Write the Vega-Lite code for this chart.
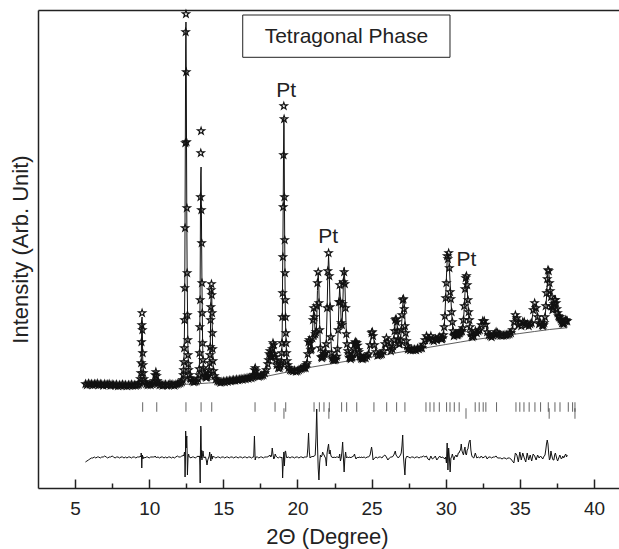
{
"$schema": "https://vega.github.io/schema/vega-lite/v6.json",
"width": 593, "height": 478,
"autosize": {"type": "none"},
"padding": {"left": 38, "top": 10, "right": 0, "bottom": 61},
"background": "white",
"config": {"view": {"stroke": null}, "font": "Liberation Sans",
  "axis": {"grid": false, "labelFont": "Liberation Sans", "titleFont": "Liberation Sans", "titleFontWeight": "normal", "domainColor": "#222", "tickColor": "#222", "labelColor": "#222", "titleColor": "#222"}},
"datasets": {
"xrd": [
{"x":5.7,"o":104,"c":103.5,"d":26},{"x":5.8,"o":103,"c":103.5,"d":27},{"x":5.9,"o":104.5,"c":103.5,"d":28},{"x":6.0,"o":103.5,"c":103.5,"d":29},{"x":6.1,"o":104,"c":103.5,"d":30},{"x":6.2,"o":103,"c":103.5,"d":30},{"x":6.3,"o":104,"c":103.4,"d":31},{"x":6.4,"o":103.5,"c":103.4,"d":30},{"x":6.5,"o":104.5,"c":103.4,"d":31},{"x":6.6,"o":103,"c":103.4,"d":31},{"x":6.7,"o":104,"c":103.3,"d":30},{"x":6.8,"o":103.5,"c":103.3,"d":31},{"x":6.9,"o":102.5,"c":103.3,"d":31},{"x":7.0,"o":104,"c":103.3,"d":32},{"x":7.1,"o":103,"c":103.2,"d":31},{"x":7.2,"o":103.5,"c":103.2,"d":30},{"x":7.3,"o":104,"c":103.2,"d":31},{"x":7.4,"o":102.5,"c":103.2,"d":31},{"x":7.5,"o":103.5,"c":103.1,"d":32},{"x":7.6,"o":103,"c":103.1,"d":31},{"x":7.7,"o":102.5,"c":103.1,"d":30},{"x":7.8,"o":103.5,"c":103.1,"d":31},{"x":7.9,"o":102,"c":103,"d":31},{"x":8.0,"o":103,"c":103,"d":30},{"x":8.1,"o":102.5,"c":103,"d":31},{"x":8.2,"o":103.5,"c":103,"d":31},{"x":8.3,"o":102.5,"c":103,"d":30},{"x":8.4,"o":103,"c":103,"d":31},{"x":8.5,"o":102,"c":103,"d":30},{"x":8.6,"o":103,"c":103,"d":31},{"x":8.7,"o":102.5,"c":103,"d":31},{"x":8.8,"o":103.5,"c":103,"d":30},{"x":8.9,"o":102.5,"c":103,"d":31},{"x":9.0,"o":103,"c":103,"d":31},{"x":9.1,"o":102.5,"c":103.1,"d":30},{"x":9.2,"o":103,"c":103.3,"d":31},{"x":9.3,"o":103.5,"c":103.6,"d":31},
{"x":9.36,"o":105,"c":104.5,"d":31},{"x":9.4,"o":109,"c":107,"d":32},{"x":9.44,"o":115,"c":114,"d":31},{"x":9.46,"o":125,"c":122,"d":35},{"x":9.48,"o":146,"c":142,"d":33},{"x":9.5,"o":163,"c":168,"d":20},{"x":9.52,"o":175,"c":171,"d":30},{"x":9.54,"o":158,"c":158,"d":33},{"x":9.56,"o":135,"c":132,"d":31},{"x":9.58,"o":123,"c":120,"d":29},{"x":9.6,"o":115,"c":113,"d":31},{"x":9.64,"o":109,"c":108,"d":31},{"x":9.7,"o":106,"c":105.5,"d":30},{"x":9.8,"o":104,"c":104,"d":31},{"x":9.9,"o":103,"c":103.5,"d":31},{"x":10.0,"o":103.5,"c":103.4,"d":30},{"x":10.1,"o":103,"c":103.5,"d":31},{"x":10.2,"o":104,"c":103.8,"d":31},{"x":10.3,"o":105,"c":104.5,"d":31},{"x":10.35,"o":107,"c":107,"d":31},{"x":10.4,"o":113,"c":112,"d":32},{"x":10.45,"o":116,"c":115,"d":31},{"x":10.5,"o":112,"c":112,"d":30},{"x":10.55,"o":107,"c":107,"d":31},{"x":10.6,"o":104.5,"c":104.5,"d":31},{"x":10.7,"o":103,"c":103.6,"d":30},{"x":10.8,"o":103.5,"c":103.3,"d":31},{"x":10.9,"o":102.5,"c":103.2,"d":31},{"x":11.0,"o":103,"c":103.2,"d":30},{"x":11.1,"o":103.5,"c":103.2,"d":31},{"x":11.2,"o":102.5,"c":103.3,"d":30},{"x":11.3,"o":103,"c":103.3,"d":31},{"x":11.4,"o":104,"c":103.3,"d":31},{"x":11.5,"o":103,"c":103.4,"d":30},{"x":11.6,"o":103.5,"c":103.5,"d":31},{"x":11.7,"o":102.5,"c":103.6,"d":30},{"x":11.8,"o":103.5,"c":103.7,"d":31},{"x":11.9,"o":104,"c":104,"d":32},{"x":12.0,"o":104.5,"c":104.3,"d":31},{"x":12.1,"o":105,"c":104.8,"d":31},{"x":12.2,"o":106,"c":105.6,"d":32},
{"x":12.26,"o":108,"c":107,"d":32},{"x":12.3,"o":113,"c":111,"d":33},{"x":12.32,"o":118,"c":116,"d":32},{"x":12.34,"o":126,"c":124,"d":33},{"x":12.36,"o":140,"c":137,"d":34},{"x":12.38,"o":168,"c":160,"d":36},{"x":12.4,"o":200,"c":198,"d":30},{"x":12.42,"o":260,"c":275,"d":11},{"x":12.44,"o":345,"c":355,"d":25},{"x":12.46,"o":456,"c":440,"d":57},{"x":12.48,"o":474,"c":466,"d":48},{"x":12.5,"o":416,"c":418,"d":40},{"x":12.52,"o":346,"c":335,"d":50},{"x":12.54,"o":280,"c":265,"d":52},{"x":12.56,"o":215,"c":214,"d":36},{"x":12.58,"o":173,"c":185,"d":13},{"x":12.6,"o":148,"c":155,"d":22},{"x":12.62,"o":133,"c":135,"d":30},{"x":12.64,"o":124,"c":124,"d":33},{"x":12.66,"o":118,"c":118,"d":34},{"x":12.7,"o":113,"c":112,"d":31},{"x":12.75,"o":110,"c":109.5,"d":31},{"x":12.8,"o":109,"c":108,"d":30},{"x":12.9,"o":107,"c":107,"d":31},{"x":13.0,"o":106,"c":106,"d":31},{"x":13.1,"o":106.5,"c":106,"d":30},{"x":13.2,"o":107,"c":107,"d":31},{"x":13.3,"o":109,"c":109,"d":32},
{"x":13.36,"o":113,"c":113,"d":31},{"x":13.38,"o":119,"c":118,"d":32},{"x":13.4,"o":135,"c":133,"d":32},{"x":13.42,"o":161,"c":165,"d":22},{"x":13.44,"o":188,"c":210,"d":5},{"x":13.46,"o":291,"c":280,"d":40},{"x":13.48,"o":335,"c":314,"d":62},{"x":13.5,"o":357,"c":321,"d":58},{"x":13.52,"o":278,"c":285,"d":30},{"x":13.54,"o":245,"c":240,"d":38},{"x":13.56,"o":205,"c":205,"d":28},{"x":13.58,"o":175,"c":178,"d":32},{"x":13.6,"o":145,"c":150,"d":33},{"x":13.63,"o":128,"c":127,"d":37},{"x":13.66,"o":120,"c":119,"d":33},{"x":13.7,"o":115,"c":115,"d":30},{"x":13.75,"o":112,"c":112,"d":31},{"x":13.8,"o":111,"c":111,"d":31},{"x":13.85,"o":110.5,"c":111,"d":28},{"x":13.9,"o":111,"c":112,"d":23},{"x":13.95,"o":112,"c":112,"d":28},{"x":14.0,"o":114,"c":114,"d":30},{"x":14.05,"o":118,"c":118,"d":32},{"x":14.08,"o":125,"c":124,"d":36},{"x":14.1,"o":133,"c":131,"d":34},{"x":14.12,"o":141,"c":142,"d":30},{"x":14.14,"o":168,"c":165,"d":29},{"x":14.16,"o":181,"c":184,"d":27},{"x":14.18,"o":198,"c":197,"d":32},{"x":14.2,"o":204,"c":201,"d":34},{"x":14.22,"o":193,"c":193,"d":31},{"x":14.24,"o":175,"c":177,"d":29},{"x":14.26,"o":155,"c":156,"d":29},{"x":14.28,"o":139,"c":139,"d":31},{"x":14.3,"o":127,"c":127,"d":32},{"x":14.34,"o":117,"c":117,"d":31},{"x":14.4,"o":112,"c":112,"d":31},
{"x":14.5,"o":109,"c":108.5,"d":30},{"x":14.6,"o":107,"c":107,"d":31},{"x":14.7,"o":106.5,"c":106.3,"d":31},{"x":14.8,"o":105.5,"c":106,"d":30},{"x":14.9,"o":106,"c":106,"d":31},{"x":15.0,"o":106.5,"c":106.2,"d":31},{"x":15.1,"o":106,"c":106.4,"d":30},{"x":15.2,"o":107,"c":106.6,"d":31},{"x":15.3,"o":106.5,"c":106.8,"d":31},{"x":15.4,"o":107.5,"c":107,"d":30},{"x":15.5,"o":107,"c":107.2,"d":31},{"x":15.6,"o":107.5,"c":107.4,"d":31},{"x":15.7,"o":108,"c":107.6,"d":30},{"x":15.8,"o":107.5,"c":107.8,"d":31},{"x":15.9,"o":108.5,"c":108,"d":31},{"x":16.0,"o":108,"c":108.2,"d":30},{"x":16.1,"o":108.5,"c":108.4,"d":31},{"x":16.2,"o":109,"c":108.6,"d":31},{"x":16.3,"o":108.5,"c":108.8,"d":30},{"x":16.4,"o":109.5,"c":109,"d":31},{"x":16.5,"o":109,"c":109.2,"d":31},{"x":16.6,"o":110,"c":109.4,"d":30},{"x":16.7,"o":109.5,"c":109.6,"d":31},{"x":16.8,"o":110.5,"c":109.8,"d":31},{"x":16.9,"o":110,"c":110,"d":30},{"x":17.0,"o":111,"c":110.5,"d":31},{"x":17.05,"o":113,"c":112,"d":31},{"x":17.1,"o":118,"c":114,"d":52},{"x":17.15,"o":120,"c":121,"d":28},{"x":17.2,"o":117,"c":117,"d":31},{"x":17.25,"o":113,"c":113,"d":31},{"x":17.3,"o":112,"c":112,"d":31},{"x":17.4,"o":111.5,"c":111.5,"d":30},{"x":17.5,"o":112,"c":111.8,"d":31},{"x":17.6,"o":112.5,"c":112.2,"d":31},{"x":17.7,"o":113,"c":113,"d":30},{"x":17.8,"o":115,"c":114.5,"d":31},{"x":17.9,"o":118,"c":118,"d":31},{"x":18.0,"o":124,"c":124,"d":31},{"x":18.05,"o":128,"c":128,"d":32},{"x":18.1,"o":134,"c":133,"d":32},{"x":18.15,"o":137,"c":137,"d":33},{"x":18.2,"o":132,"c":132,"d":31},{"x":18.25,"o":131,"c":131,"d":32},{"x":18.3,"o":139,"c":136,"d":40},{"x":18.35,"o":145,"c":144,"d":34},{"x":18.4,"o":143,"c":145,"d":29},{"x":18.45,"o":134,"c":135,"d":30},{"x":18.5,"o":131,"c":130,"d":34},{"x":18.55,"o":128,"c":128,"d":32},{"x":18.6,"o":123,"c":123,"d":31},{"x":18.7,"o":120,"c":120,"d":30},{"x":18.8,"o":120,"c":120,"d":31},{"x":18.85,"o":122,"c":122,"d":31},{"x":18.9,"o":125,"c":125,"d":30},
{"x":18.92,"o":127,"c":127,"d":30},{"x":18.94,"o":135,"c":133,"d":31},{"x":18.96,"o":145,"c":143,"d":30},{"x":18.98,"o":171,"c":168,"d":24},{"x":19.0,"o":195,"c":215,"d":10},{"x":19.02,"o":231,"c":245,"d":18},{"x":19.04,"o":281,"c":285,"d":24},{"x":19.06,"o":333,"c":330,"d":30},{"x":19.08,"o":382,"c":370,"d":36},{"x":19.1,"o":369,"c":362,"d":34},{"x":19.12,"o":291,"c":295,"d":22},{"x":19.14,"o":248,"c":250,"d":28},{"x":19.16,"o":215,"c":210,"d":34},{"x":19.18,"o":188,"c":180,"d":37},{"x":19.2,"o":171,"c":165,"d":37},{"x":19.22,"o":155,"c":152,"d":35},{"x":19.24,"o":145,"c":143,"d":33},{"x":19.26,"o":135,"c":135,"d":31},{"x":19.3,"o":127,"c":127,"d":30},{"x":19.35,"o":123,"c":123,"d":31},{"x":19.4,"o":120,"c":120,"d":31},
{"x":19.5,"o":118,"c":117.5,"d":30},{"x":19.6,"o":117.5,"c":117.4,"d":31},{"x":19.7,"o":117,"c":117.4,"d":31},{"x":19.8,"o":117.5,"c":117.5,"d":30},{"x":19.9,"o":116.5,"c":117.7,"d":31},{"x":20.0,"o":117,"c":118,"d":31},{"x":20.1,"o":118,"c":118.3,"d":30},{"x":20.2,"o":119,"c":118.6,"d":31},{"x":20.3,"o":119.5,"c":119,"d":31},{"x":20.4,"o":120,"c":119.5,"d":30},{"x":20.45,"o":120.5,"c":120,"d":31},{"x":20.5,"o":121,"c":120.5,"d":31},{"x":20.55,"o":120,"c":120.7,"d":31},{"x":20.6,"o":123,"c":122.2,"d":31},{"x":20.65,"o":125,"c":126,"d":31},{"x":20.7,"o":134,"c":133.6,"d":40},{"x":20.75,"o":146,"c":143,"d":55},{"x":20.8,"o":148,"c":148.4,"d":36},{"x":20.85,"o":145,"c":144.7,"d":30},{"x":20.9,"o":138,"c":138.6,"d":31},{"x":20.95,"o":139,"c":137.8,"d":31},{"x":21.0,"o":150,"c":149,"d":32},{"x":21.05,"o":168,"c":168.5,"d":31},{"x":21.1,"o":180,"c":179.8,"d":32},{"x":21.15,"o":171,"c":169.4,"d":32},{"x":21.2,"o":154,"c":152.5,"d":33},{"x":21.25,"o":156,"c":148.3,"d":50},{"x":21.3,"o":182,"c":166,"d":79},{"x":21.35,"o":205,"c":197.5,"d":45},{"x":21.4,"o":216,"c":215.6,"d":20},{"x":21.45,"o":185,"c":197,"d":8},{"x":21.5,"o":158,"c":163.7,"d":25},{"x":21.55,"o":140,"c":140.2,"d":33},{"x":21.6,"o":131,"c":130.8,"d":31},{"x":21.65,"o":130,"c":129,"d":32},{"x":21.7,"o":131,"c":129.9,"d":36},{"x":21.75,"o":132,"c":132.3,"d":34},{"x":21.8,"o":134,"c":134.4,"d":33},{"x":21.85,"o":134.5,"c":134,"d":31},{"x":21.9,"o":136,"c":137,"d":30},{"x":21.95,"o":144,"c":149.8,"d":22},{"x":22.0,"o":180,"c":177.7,"d":35},{"x":22.05,"o":217,"c":212.7,"d":40},{"x":22.1,"o":235,"c":233,"d":44},{"x":22.15,"o":212,"c":214.8,"d":34},{"x":22.2,"o":181,"c":179.7,"d":38},{"x":22.25,"o":151,"c":150.6,"d":33},{"x":22.3,"o":135,"c":135.9,"d":31},{"x":22.35,"o":130,"c":131,"d":31},{"x":22.4,"o":128,"c":128.9,"d":30},{"x":22.45,"o":129,"c":128.3,"d":31},{"x":22.5,"o":128,"c":128.4,"d":31},{"x":22.55,"o":129.5,"c":128.7,"d":30},{"x":22.6,"o":128.5,"c":129,"d":31},{"x":22.65,"o":131.5,"c":131,"d":31},{"x":22.7,"o":139,"c":139.4,"d":31},{"x":22.75,"o":158,"c":158.5,"d":31},{"x":22.8,"o":186,"c":185.5,"d":30},{"x":22.85,"o":203,"c":201,"d":34},{"x":22.9,"o":186,"c":187.9,"d":27},{"x":22.95,"o":165,"c":166.2,"d":30},{"x":23.0,"o":163,"c":160,"d":36},{"x":23.05,"o":184,"c":177.2,"d":46},{"x":23.1,"o":206,"c":204.9,"d":30},{"x":23.15,"o":216,"c":220.5,"d":16},{"x":23.2,"o":204,"c":205.3,"d":30},{"x":23.25,"o":180,"c":177.4,"d":36},{"x":23.3,"o":154,"c":154.4,"d":30},{"x":23.35,"o":144,"c":143.2,"d":31},{"x":23.4,"o":137,"c":137.3,"d":31},{"x":23.45,"o":134,"c":133.4,"d":30},{"x":23.5,"o":130.5,"c":131,"d":31},{"x":23.55,"o":130,"c":129.8,"d":31},{"x":23.6,"o":129,"c":129.6,"d":30},{"x":23.65,"o":130.5,"c":129.8,"d":31},{"x":23.7,"o":131,"c":131.5,"d":31},{"x":23.75,"o":134,"c":133.7,"d":32},{"x":23.8,"o":139,"c":138,"d":32},{"x":23.85,"o":144,"c":142.8,"d":34},{"x":23.9,"o":146,"c":146.2,"d":31},{"x":23.95,"o":145,"c":146.6,"d":29},{"x":24.0,"o":145,"c":144.8,"d":30},{"x":24.05,"o":142.5,"c":142,"d":31},{"x":24.1,"o":138,"c":138.7,"d":30},{"x":24.15,"o":136,"c":135.3,"d":31},{"x":24.2,"o":132,"c":132.6,"d":31},{"x":24.25,"o":131,"c":130.6,"d":30},{"x":24.3,"o":129.5,"c":130,"d":31},{"x":24.35,"o":130,"c":129.8,"d":31},{"x":24.4,"o":129,"c":129.5,"d":30},{"x":24.45,"o":130,"c":129.8,"d":31},
{"x":24.5,"o":130.5,"c":130,"d":31},{"x":24.6,"o":130,"c":130.6,"d":30},{"x":24.7,"o":132,"c":131.5,"d":31},{"x":24.8,"o":134,"c":134.6,"d":31},{"x":24.9,"o":143,"c":142.8,"d":33},{"x":25.0,"o":155,"c":153,"d":41},{"x":25.05,"o":156,"c":155.1,"d":36},{"x":25.1,"o":152,"c":153.3,"d":28},{"x":25.2,"o":143,"c":143.5,"d":30},{"x":25.3,"o":136,"c":135.9,"d":31},{"x":25.4,"o":132.5,"c":133.2,"d":30},{"x":25.5,"o":133,"c":133.2,"d":31},{"x":25.6,"o":133.5,"c":133,"d":31},{"x":25.7,"o":134,"c":134.2,"d":30},{"x":25.8,"o":137,"c":136.8,"d":32},{"x":25.9,"o":144,"c":143.3,"d":33},{"x":26.0,"o":150,"c":149.6,"d":31},{"x":26.1,"o":146,"c":147.5,"d":28},{"x":26.2,"o":141,"c":140.9,"d":30},{"x":26.3,"o":137,"c":137.3,"d":31},{"x":26.4,"o":139,"c":138.3,"d":31},{"x":26.45,"o":142,"c":141.5,"d":32},{"x":26.5,"o":148,"c":147.6,"d":33},{"x":26.55,"o":157,"c":156.2,"d":35},{"x":26.6,"o":168,"c":165.8,"d":37},{"x":26.65,"o":169,"c":169.7,"d":33},{"x":26.7,"o":166,"c":166.5,"d":32},{"x":26.75,"o":157,"c":157.7,"d":31},{"x":26.8,"o":149,"c":149.8,"d":30},{"x":26.85,"o":144,"c":144.4,"d":31},{"x":26.9,"o":144,"c":143.6,"d":32},{"x":26.95,"o":148,"c":147.3,"d":33},{"x":27.0,"o":158,"c":156.3,"d":35},{"x":27.05,"o":173,"c":169.2,"d":42},{"x":27.1,"o":188,"c":183.2,"d":53},{"x":27.15,"o":189,"c":188.8,"d":32},{"x":27.2,"o":179,"c":182.8,"d":22},{"x":27.25,"o":162,"c":168.8,"d":13},{"x":27.3,"o":155,"c":156,"d":29},{"x":27.35,"o":147,"c":146.8,"d":31},{"x":27.4,"o":142,"c":141.7,"d":32},{"x":27.45,"o":139,"c":139.4,"d":31},{"x":27.5,"o":139,"c":139,"d":31},{"x":27.6,"o":138,"c":138.6,"d":30},{"x":27.7,"o":138.5,"c":138.4,"d":31},{"x":27.8,"o":138,"c":138.5,"d":31},{"x":27.9,"o":138.5,"c":138.4,"d":30},{"x":28.0,"o":138,"c":138.6,"d":31},{"x":28.1,"o":139.5,"c":138.9,"d":31},{"x":28.2,"o":139,"c":139.2,"d":30},{"x":28.3,"o":140,"c":139.6,"d":31},{"x":28.4,"o":140,"c":140.4,"d":31},{"x":28.5,"o":143.5,"c":143,"d":32},{"x":28.6,"o":148,"c":147.7,"d":31},{"x":28.7,"o":152,"c":151,"d":32},{"x":28.8,"o":150,"c":150.6,"d":29},{"x":28.9,"o":149,"c":150.4,"d":28},{"x":29.0,"o":152,"c":151.2,"d":32},{"x":29.1,"o":148,"c":149,"d":29},{"x":29.2,"o":147,"c":147.2,"d":30},{"x":29.3,"o":149,"c":148.6,"d":32},{"x":29.4,"o":148,"c":149.3,"d":28},{"x":29.5,"o":150,"c":150,"d":30},{"x":29.6,"o":151,"c":150.3,"d":32},{"x":29.7,"o":149,"c":149.5,"d":30},{"x":29.75,"o":149,"c":148.9,"d":31},{"x":29.8,"o":150,"c":149.8,"d":31},{"x":29.85,"o":153,"c":153.7,"d":30},{"x":29.9,"o":161,"c":161.4,"d":30},{"x":29.95,"o":172,"c":173.4,"d":29},{"x":30.0,"o":190,"c":191.4,"d":31},{"x":30.05,"o":205,"c":211,"d":25},{"x":30.1,"o":232,"c":226.9,"d":45},{"x":30.15,"o":229,"c":234.7,"d":18},{"x":30.2,"o":235,"c":231.4,"d":40},{"x":30.25,"o":220,"c":220.1,"d":30},{"x":30.3,"o":196,"c":205,"d":16},{"x":30.35,"o":189,"c":189.4,"d":30},{"x":30.4,"o":176,"c":175.5,"d":31},{"x":30.45,"o":166,"c":164.1,"d":34},{"x":30.5,"o":157,"c":156.8,"d":31},{"x":30.55,"o":152,"c":153.5,"d":28},{"x":30.6,"o":153,"c":152.7,"d":31},{"x":30.65,"o":154,"c":153.3,"d":32},{"x":30.7,"o":154,"c":153.7,"d":33},{"x":30.75,"o":153,"c":153.2,"d":31},{"x":30.8,"o":153,"c":152.4,"d":32},{"x":30.85,"o":154,"c":152.6,"d":35},{"x":30.9,"o":155,"c":153.3,"d":35},{"x":30.95,"o":155,"c":153.2,"d":37},{"x":31.0,"o":156,"c":152.9,"d":38},{"x":31.05,"o":157,"c":152.7,"d":44},{"x":31.1,"o":157,"c":154.7,"d":37},{"x":31.15,"o":160,"c":159.7,"d":35},{"x":31.2,"o":168,"c":167,"d":33},{"x":31.25,"o":182,"c":179.6,"d":38},{"x":31.3,"o":199,"c":194.3,"d":41},{"x":31.35,"o":210,"c":208.9,"d":34},{"x":31.4,"o":212,"c":210.5,"d":33},{"x":31.45,"o":203,"c":200.1,"d":38},{"x":31.5,"o":188,"c":185,"d":39},{"x":31.55,"o":176,"c":171.9,"d":44},{"x":31.6,"o":168,"c":161.8,"d":47},{"x":31.65,"o":161,"c":155.1,"d":48},{"x":31.7,"o":155,"c":151.7,"d":38},{"x":31.75,"o":152,"c":151,"d":33},{"x":31.8,"o":151,"c":151.1,"d":31},{"x":31.9,"o":152,"c":153,"d":30},{"x":32.0,"o":157,"c":156,"d":35},{"x":32.1,"o":155,"c":155.8,"d":30},{"x":32.2,"o":157,"c":156.7,"d":31},{"x":32.3,"o":158,"c":158.7,"d":30},{"x":32.4,"o":163,"c":162.5,"d":32},{"x":32.5,"o":167,"c":167.6,"d":30},{"x":32.6,"o":167,"c":167.4,"d":31},{"x":32.7,"o":163.5,"c":163.3,"d":32},{"x":32.8,"o":156,"c":156.9,"d":29},{"x":32.9,"o":153,"c":153,"d":31},{"x":33.0,"o":152,"c":151.9,"d":31},{"x":33.1,"o":151,"c":151.5,"d":30},{"x":33.2,"o":152.5,"c":152.3,"d":31},{"x":33.3,"o":154,"c":154.1,"d":31},{"x":33.4,"o":156,"c":155.7,"d":32},{"x":33.5,"o":155,"c":155.4,"d":30},{"x":33.6,"o":153.5,"c":153.8,"d":30},{"x":33.7,"o":152.5,"c":152.9,"d":30},{"x":33.8,"o":152.5,"c":152.8,"d":29},{"x":33.9,"o":152.5,"c":152.8,"d":30},{"x":34.0,"o":153,"c":153.2,"d":30},{"x":34.1,"o":153,"c":153.4,"d":29},{"x":34.2,"o":153.5,"c":153.8,"d":30},{"x":34.3,"o":154,"c":154.2,"d":30},{"x":34.4,"o":155,"c":155.3,"d":29},{"x":34.5,"o":158,"c":159.1,"d":27},{"x":34.6,"o":166,"c":167,"d":25},{"x":34.7,"o":173,"c":171.9,"d":35},{"x":34.8,"o":170,"c":169.2,"d":33},{"x":34.9,"o":163,"c":164.7,"d":26},{"x":35.0,"o":165,"c":163.4,"d":36},{"x":35.1,"o":162,"c":163.2,"d":28},{"x":35.2,"o":166,"c":164.9,"d":35},{"x":35.3,"o":166,"c":166.5,"d":30},{"x":35.4,"o":163,"c":164.6,"d":26},{"x":35.5,"o":164,"c":162.6,"d":35},{"x":35.6,"o":162,"c":162.9,"d":28},{"x":35.7,"o":164,"c":163.3,"d":33},{"x":35.8,"o":165,"c":166.1,"d":27},{"x":35.9,"o":178,"c":176.8,"d":34},{"x":36.0,"o":185,"c":184.3,"d":32},{"x":36.1,"o":180,"c":181,"d":28},{"x":36.2,"o":171,"c":170,"d":33},{"x":36.3,"o":164,"c":164.1,"d":30},{"x":36.4,"o":165,"c":164.4,"d":32},{"x":36.5,"o":163,"c":163.2,"d":30},{"x":36.55,"o":162,"c":162.8,"d":29},{"x":36.6,"o":163,"c":163.2,"d":31},{"x":36.65,"o":165,"c":164.6,"d":32},{"x":36.7,"o":171,"c":170.4,"d":33},{"x":36.75,"o":182,"c":179.1,"d":38},{"x":36.8,"o":195,"c":190,"d":44},{"x":36.85,"o":209,"c":203.2,"d":48},{"x":36.9,"o":218,"c":215.5,"d":44},{"x":36.95,"o":217,"c":216.7,"d":34},{"x":37.0,"o":205,"c":208.2,"d":28},{"x":37.05,"o":197,"c":198.9,"d":30},{"x":37.1,"o":191,"c":188.7,"d":37},{"x":37.15,"o":182,"c":180.9,"d":33},{"x":37.2,"o":178,"c":178.4,"d":30},{"x":37.25,"o":180,"c":181.3,"d":28},{"x":37.3,"o":184,"c":185.2,"d":28},{"x":37.35,"o":188,"c":187.2,"d":33},{"x":37.4,"o":188,"c":187.1,"d":35},{"x":37.45,"o":185,"c":184.8,"d":32},{"x":37.5,"o":179,"c":180.2,"d":29},{"x":37.55,"o":175,"c":176.2,"d":27},{"x":37.6,"o":172,"c":172.9,"d":29},{"x":37.65,"o":171,"c":171,"d":31},{"x":37.7,"o":171,"c":170,"d":33},{"x":37.75,"o":169,"c":169,"d":31},{"x":37.8,"o":167,"c":167.5,"d":29},{"x":37.85,"o":165,"c":165.6,"d":30},{"x":37.9,"o":165,"c":164.5,"d":32},{"x":37.95,"o":164,"c":164.1,"d":30},{"x":38.0,"o":165,"c":164.8,"d":31},{"x":38.05,"o":167,"c":166.1,"d":33},{"x":38.1,"o":168,"c":167,"d":34},{"x":38.15,"o":167,"c":167.6,"d":31},{"x":38.2,"o":167,"c":167.1,"d":33}
],
"bkgd": [
{"x":5.7,"h":103},{"x":8,"h":103},{"x":10,"h":103},{"x":12,"h":103.5},{"x":13,"h":104},{"x":14,"h":105},{"x":15,"h":106},{"x":16,"h":107.5},{"x":17,"h":109.5},{"x":18,"h":112},{"x":19,"h":115},{"x":20,"h":118},{"x":21,"h":121},{"x":22,"h":123.5},{"x":23,"h":126},{"x":24,"h":128.5},{"x":25,"h":131},{"x":26,"h":133.5},{"x":27,"h":136},{"x":28,"h":138.5},{"x":29,"h":141},{"x":30,"h":143.5},{"x":31,"h":146},{"x":32,"h":148.5},{"x":33,"h":150.5},{"x":34,"h":152.5},{"x":35,"h":154.5},{"x":36,"h":156.5},{"x":37,"h":158.5},{"x":38,"h":160},{"x":38.2,"h":160.3}
],
"tetd": [
{"t":9.56},{"t":10.51},{"t":12.48},{"t":13.5},{"t":14.22},{"t":17.14},{"t":18.49},{"t":19.21},{"t":21.12},{"t":21.48},{"t":21.79},{"t":22.15},{"t":22.98},{"t":23.32},{"t":24.0},{"t":25.16},{"t":26.02},{"t":26.69},{"t":27.25},{"t":28.67},{"t":28.94},{"t":29.21},{"t":29.57},{"t":30.06},{"t":30.29},{"t":30.58},{"t":30.91},{"t":31.99},{"t":32.26},{"t":32.53},{"t":32.71},{"t":33.43},{"t":34.74},{"t":35.0},{"t":35.28},{"t":35.63},{"t":36.02},{"t":36.4},{"t":36.92},{"t":37.37},{"t":37.71},{"t":38.27},{"t":38.56},{"t":38.72}
],
"ptd": [
{"t":19.09},{"t":22.12},{"t":31.37},{"t":36.98},{"t":38.72}
],
"boxd": [
{"x":16.31,"x2":30.29,"y":473,"y2":430.7}
],
"labd": [
{"x":19.24,"y":391,"t":"Pt"},{"x":22.08,"y":245,"t":"Pt"},{"x":31.4,"y":222,"t":"Pt"},{"x":23.3,"y":444.7,"t":"Tetragonal Phase"}
]
},
"layer": [
{"data": {"name": "bkgd"},
 "mark": {"type": "line", "color": "#333", "strokeWidth": 0.8},
 "encoding": {
  "x": {"field": "x", "type": "quantitative", "scale": {"domain": [2.5, 42.5], "nice": false, "zero": false},
   "axis": {"orient": "bottom", "values": [5,10,15,20,25,30,35,40], "format": "d", "tickSize": -9, "tickWidth": 1.5, "domainWidth": 1.5, "labelFontSize": 19, "labelPadding": 20, "labelFlush": false, "labelOverlap": false, "title": "2Θ (Degree)", "titleFontSize": 22, "titlePadding": 8, "titleX": 289}},
  "y": {"field": "h", "type": "quantitative", "scale": {"domain": [0, 478], "nice": false, "zero": false},
   "axis": {"orient": "left", "ticks": false, "labels": false, "domainWidth": 1.5, "title": "Intensity (Arb. Unit)", "titleFontSize": 22, "titlePadding": 6}}
 }},
{"data": {"name": "xrd"},
 "mark": {"type": "point", "shape": "M0,-1L0.223,-0.307L0.951,-0.309L0.361,0.117L0.588,0.809L0,0.38L-0.588,0.809L-0.361,0.117L-0.951,-0.309L-0.223,-0.307Z", "size": 58, "filled": false, "stroke": "#111", "strokeWidth": 1.1, "opacity": 1},
 "encoding": {
  "x": {"field": "x", "type": "quantitative", "scale": {"domain": [2.5, 42.5], "nice": false, "zero": false},
   "axis": {"orient": "top", "ticks": false, "labels": false, "domainWidth": 1.5, "title": null}},
  "y": {"field": "o", "type": "quantitative", "scale": {"domain": [0, 478], "nice": false, "zero": false}, "axis": null}
 }},
{"data": {"name": "xrd"},
 "mark": {"type": "line", "color": "#111", "strokeWidth": 1},
 "encoding": {
  "x": {"field": "x", "type": "quantitative", "scale": {"domain": [2.5, 42.5], "nice": false, "zero": false},
   "axis": {"orient": "bottom", "values": [7.5,12.5,17.5,22.5,27.5,32.5,37.5], "tickSize": -5, "tickWidth": 1.5, "labels": false, "domain": false, "title": null}},
  "y": {"field": "c", "type": "quantitative", "scale": {"domain": [0, 478], "nice": false, "zero": false}, "axis": null}
 }},
{"data": {"name": "xrd"},
 "mark": {"type": "line", "color": "#111", "strokeWidth": 1},
 "encoding": {
  "x": {"field": "x", "type": "quantitative", "scale": {"domain": [2.5, 42.5], "nice": false, "zero": false}, "axis": null},
  "y": {"field": "d", "type": "quantitative", "scale": {"domain": [0, 478], "nice": false, "zero": false}, "axis": null}
 }},
{"data": {"name": "tetd"},
 "mark": {"type": "tick", "orient": "vertical", "size": 9.5, "thickness": 1, "color": "#222"},
 "encoding": {
  "x": {"field": "t", "type": "quantitative", "scale": {"domain": [2.5, 42.5], "nice": false, "zero": false}, "axis": null},
  "y": {"datum": 81, "type": "quantitative", "scale": {"domain": [0, 478], "nice": false, "zero": false}, "axis": null}
 }},
{"data": {"name": "ptd"},
 "mark": {"type": "tick", "orient": "vertical", "size": 10.5, "thickness": 1, "color": "#222"},
 "encoding": {
  "x": {"field": "t", "type": "quantitative", "scale": {"domain": [2.5, 42.5], "nice": false, "zero": false}, "axis": null},
  "y": {"datum": 74.4, "type": "quantitative", "scale": {"domain": [0, 478], "nice": false, "zero": false}, "axis": null}
 }},
{"data": {"name": "boxd"},
 "mark": {"type": "rect", "fill": "white", "stroke": "#222", "strokeWidth": 1},
 "encoding": {
  "x": {"field": "x", "type": "quantitative", "scale": {"domain": [2.5, 42.5], "nice": false, "zero": false}, "axis": null},
  "x2": {"field": "x2"},
  "y": {"field": "y", "type": "quantitative", "scale": {"domain": [0, 478], "nice": false, "zero": false}, "axis": null},
  "y2": {"field": "y2"}
 }},
{"data": {"name": "labd"},
 "mark": {"type": "text", "font": "Liberation Sans", "fontSize": 21, "color": "#222", "align": "center", "baseline": "alphabetic"},
 "encoding": {
  "x": {"field": "x", "type": "quantitative", "scale": {"domain": [2.5, 42.5], "nice": false, "zero": false}, "axis": null},
  "y": {"field": "y", "type": "quantitative", "scale": {"domain": [0, 478], "nice": false, "zero": false}, "axis": null},
  "text": {"field": "t"}
 }}
],
"resolve": {"axis": {"x": "independent", "y": "independent"}}
}
